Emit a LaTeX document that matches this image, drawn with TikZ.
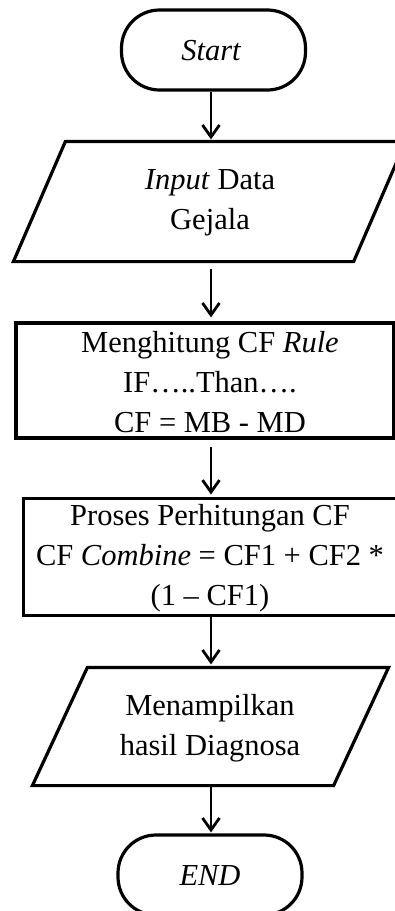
\documentclass[tikz,border=0pt]{standalone}
\usepackage{fontspec}
\setmainfont{Liberation Serif}
\usetikzlibrary{arrows.meta}
\begin{document}
\begin{tikzpicture}[x=1pt,y=-1pt,
  txt/.style={font=\fontsize{30.5}{40}\selectfont, align=center, inner sep=0pt},
  shapebox/.style={inner sep=0pt, line width=3.2pt},
  term/.style={shapebox, draw, rounded corners=38pt, minimum width=184pt, minimum height=80pt},
  arr/.style={line width=2.8pt, -{Straight Barb[length=12pt,width=17pt]}}
]
\useasboundingbox (0,0) rectangle (395,911);
\clip (0,0) rectangle (395,911);
\fill[white] (0,0) rectangle (395,911);

\coordinate (axis) at (211,0);

% Start
\node[term] (start) at (213.5,50) {};
\node[txt] (startt) at (211,51) {\itshape Start};

% Input parallelogram
\node[shapebox, minimum width=389pt, minimum height=117pt] (in) at (209.5,201.5) {};
\draw[line width=3.2pt, line join=miter] ([xshift=52pt]in.north west) -- (in.north east) -- ([xshift=-52pt]in.south east) -- (in.south west) -- cycle;
\node[txt] (int) at (210,203) {\textit{Input} Data\\Gejala};

% Box 1
\node[shapebox, draw, minimum width=378pt, minimum height=115pt] (r1) at (205,380.5) {};
\node[txt] (r1t) at (210,382) {Menghitung CF \textit{Rule}\\IF…..Than….\\CF = MB - MD};

% Box 2
\node[shapebox, draw, line width=3pt, minimum width=373pt, minimum height=117pt] (r2) at (209.5,556.5) {};
\node[txt] (r2t) at (210,558) {Proses Perhitungan CF\\CF \textit{Combine} = CF1 + CF2 *\\(1 – CF1)};

% Output parallelogram
\node[shapebox, minimum width=353pt, minimum height=115pt] (out) at (210.5,726.5) {};
\draw[line width=3.2pt, line join=miter] ([xshift=55pt]out.north west) -- (out.north east) -- ([xshift=-55pt]out.south east) -- (out.south west) -- cycle;
\node[txt] (outt) at (210,728) {Menampilkan\\hasil Diagnosa};

% End
\node[term] (end) at (210,875) {};
\node[txt] (endt) at (210,876) {\itshape END};

% Connectors
\draw[arr, shorten >=2pt] (start.south -| axis) -- (in.north -| axis);
\draw[arr, shorten <=7pt, shorten >=4pt] (in.south -| axis) -- (r1.north -| axis);
\draw[arr, shorten <=7pt, shorten >=2pt] (r1.south -| axis) -- (r2.north -| axis);
\draw[arr, shorten >=3pt] (r2.south -| axis) -- (out.north -| axis);
\draw[arr, shorten >=1pt] (out.south -| axis) -- (end.north -| axis);
\end{tikzpicture}
\end{document}
